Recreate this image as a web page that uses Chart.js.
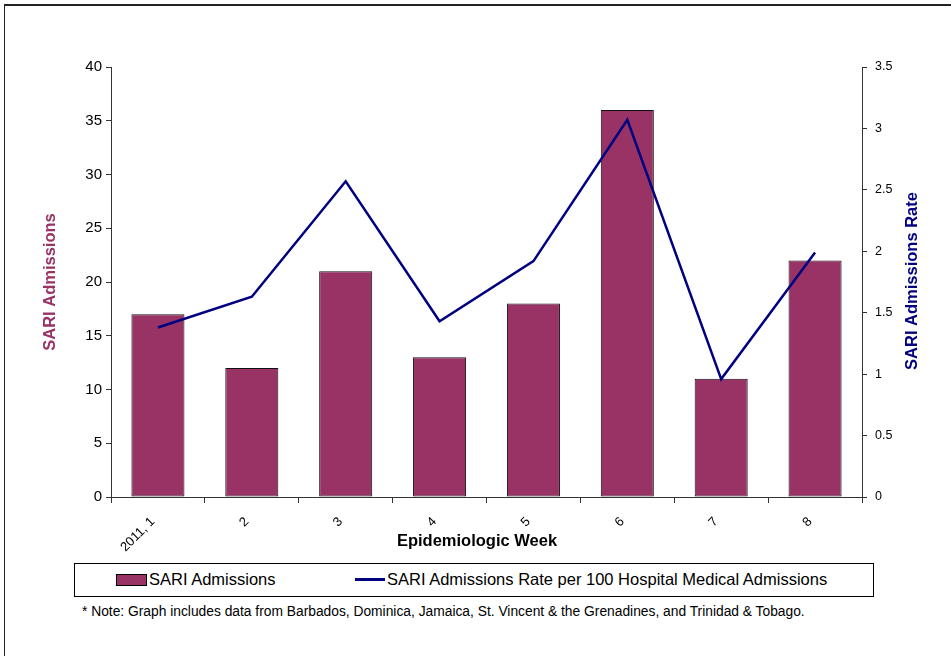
<!DOCTYPE html>
<html>
<head>
<meta charset="utf-8">
<script src="https://cdn.jsdelivr.net/npm/chart.js@4.4.0/dist/chart.umd.min.js"></script>
<style>
  body { margin: 0; background: #fff; font-family: "Liberation Sans", Arial, sans-serif; }
  #frame { position: absolute; left: 4px; top: 4px; width: 960px; height: 660px;
    border-top: 2px solid #222; border-left: 1px solid #222; }
  #wrap { position: absolute; left: 0; top: 0; width: 951px; height: 560px; }
  #legend { position: absolute; left: 74px; top: 563px; width: 798px; height: 32px;
    border: 1px solid #000; font-size: 16.5px; color: #000; }
  .item { position: absolute; top: 6px; display: flex; align-items: center; white-space: nowrap; }
  .swatch-bar { width: 29px; height: 10px; background: #993366; border: 1px solid #000; margin-right: 2px; }
  .swatch-line { width: 30px; height: 3px; background: #000080; margin-right: 2px; }
  #note { position: absolute; left: 82px; top: 604px; font-size: 13.8px; color: #000; }
</style>
</head>
<body>
<div id="frame"></div>
<div id="wrap"><canvas id="chart"></canvas></div>
<div id="legend">
  <div class="item" style="left:41px"><span class="swatch-bar"></span>SARI Admissions</div>
  <div class="item" style="left:280px"><span class="swatch-line"></span>SARI Admissions Rate per 100 Hospital Medical Admissions</div>
</div>
<div id="note">* Note: Graph includes data from Barbados, Dominica, Jamaica, St. Vincent &amp; the Grenadines, and Trinidad &amp; Tobago.</div>
<script>
// data
const weeks = ['2011, 1', '2', '3', '4', '5', '6', '7', '8']
const admissions = [17, 12, 21, 13, 18, 36, 11, 22]
const admissionRate = [1.38, 1.63, 2.57, 1.43, 1.92, 3.07, 0.96, 1.99]

const font = 'Liberation Sans, Arial, sans-serif'
const axisColor = '#333'

// x title sits a bit left of centre and the right title reads bottom-to-top,
// so both are drawn here instead of by the scales
const axisTitles = {
  id: 'axisTitles',
  afterDraw(chart) {
    const { ctx } = chart
    ctx.save()
    ctx.textAlign = 'center'
    ctx.textBaseline = 'middle'
    ctx.font = `bold 16.5px ${font}`
    ctx.fillStyle = '#000'
    ctx.fillText('Epidemiologic Week', 477, 541)
    ctx.translate(912, 281)
    ctx.rotate(-Math.PI / 2)
    ctx.fillStyle = '#000080'
    ctx.fillText('SARI Admissions Rate', 0, 0)
    ctx.restore()
  },
}

const chart = new Chart(document.getElementById('chart'), {
  data: {
    labels: weeks,
    datasets: [
      {
        type: 'line',
        label: 'SARI Admissions Rate per 100 Hospital Medical Admissions',
        data: admissionRate,
        yAxisID: 'y1',
        borderColor: '#000080',
        borderWidth: 2.5,
        pointRadius: 0,
        tension: 0,
      },
      {
        type: 'bar',
        label: 'SARI Admissions',
        data: admissions,
        yAxisID: 'y',
        backgroundColor: '#993366',
        borderColor: '#111',
        borderWidth: 1,
        borderSkipped: false,
        categoryPercentage: 1,
        barPercentage: 0.565,
      },
    ],
  },
  options: {
    responsive: true,
    maintainAspectRatio: false,
    animation: false,
    layout: { padding: { top: 67, left: 0, right: 0, bottom: 0 } },
    plugins: { legend: { display: false }, tooltip: { enabled: false } },
    scales: {
      x: {
        afterFit: (scale) => { scale.height = 63 },
        grid: { drawOnChartArea: false, tickLength: 6, color: axisColor, offset: true },
        border: { color: axisColor, width: 1 },
        ticks: { minRotation: 45, maxRotation: 45, padding: 11, labelOffset: -5,
          color: '#000', font: { family: font, size: 13 } },
      },
      y: {
        position: 'left',
        min: 0, max: 40,
        afterFit: (scale) => { scale.width = 111 },
        grid: { drawOnChartArea: false, tickLength: 5, color: axisColor },
        border: { color: axisColor, width: 1 },
        ticks: { stepSize: 5, padding: 4, color: '#000', font: { family: font, size: 15 } },
        title: { display: true, text: 'SARI Admissions', color: '#993366',
          font: { family: font, size: 16.5, weight: 'bold' }, padding: { top: 41, bottom: 0 } },
      },
      y1: {
        position: 'right',
        min: 0, max: 3.5,
        afterFit: (scale) => { scale.width = 89 },
        grid: { drawOnChartArea: false, tickLength: 5, color: axisColor },
        border: { color: axisColor, width: 1 },
        ticks: { stepSize: 0.5, padding: 8, color: '#000', font: { family: font, size: 12.5 },
          callback: (v) => String(v) },
      },
    },
  },
  plugins: [axisTitles],
})
</script>
</body>
</html>
